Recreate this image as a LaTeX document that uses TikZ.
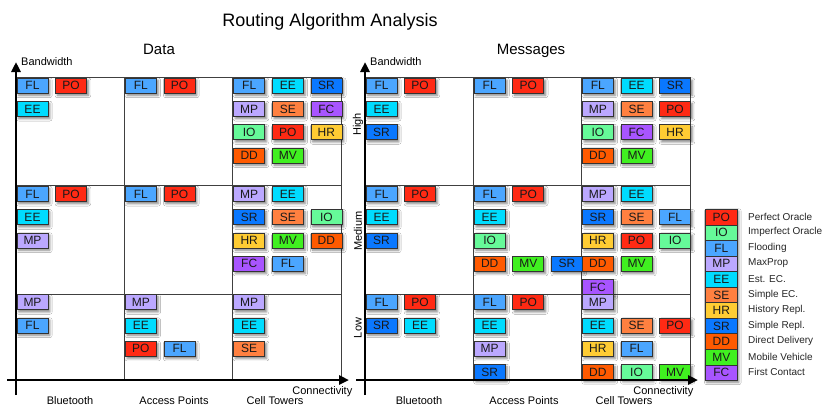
\documentclass[tikz,border=0pt]{standalone}
\usepackage{fontspec}
\setmainfont{Liberation Sans}
\usetikzlibrary{shadows.blur,arrows.meta}
\definecolor{cPO}{HTML}{FF2A14}
\definecolor{cIO}{HTML}{66FA99}
\definecolor{cFL}{HTML}{4BA6FF}
\definecolor{cMP}{HTML}{BBA8FF}
\definecolor{cEE}{HTML}{00DCFF}
\definecolor{cSE}{HTML}{FF8040}
\definecolor{cHR}{HTML}{FFCC33}
\definecolor{cSR}{HTML}{0A78FF}
\definecolor{cDD}{HTML}{FF5A00}
\definecolor{cMV}{HTML}{40F020}
\definecolor{cFC}{HTML}{A855FF}
\tikzset{
  algbox/.style={draw=black!80, line width=0.8pt, minimum width=31pt, minimum height=15pt,
    inner sep=0pt, anchor=north west, font=\fontsize{12}{12}\selectfont, text=black!90,
    blur shadow={shadow xshift=1.8pt, shadow yshift=-2.2pt, shadow blur radius=2.4pt, shadow opacity=50}},
  legbox/.style={draw=black!80, line width=0.8pt, minimum width=32pt, minimum height=15.55pt,
    inner sep=0pt, anchor=north west, font=\fontsize{12}{12}\selectfont, text=black!90},
  legtext/.style={anchor=west, font=\fontsize{10}{10}\selectfont, text=black!85, inner sep=0pt},
  frameline/.style={draw=black!75, line width=0.9pt},
  axisline/.style={line width=2.6pt, -{Triangle[length=10pt,width=9pt]}},
  axlabel/.style={font=\fontsize{11}{11}\selectfont, inner sep=0pt},
  collabel/.style={font=\fontsize{11}{11}\selectfont, inner sep=0pt, anchor=base},
  heading/.style={font=\fontsize{15}{15}\selectfont, inner sep=0pt, anchor=base},
}
\newcommand\cellboxes[4]{%
  \foreach \row [count=\r from 0] in {#4} {%
    \foreach \code [count=\k from 0] in \row {%
      \node[algbox, fill=c\code] (#1-\r-\k) at ({#2+38.6*\k},{#3+23.3*\r}) {\code};
    }
  }%
}
\begin{document}
\begin{tikzpicture}[x=1pt,y=-1pt]
\useasboundingbox[fill=white] (0,0) rectangle (826,405);

% titles
\node[font=\fontsize{18}{18}\selectfont, inner sep=0pt, anchor=base] (title) at (330,26.5) {Routing Algorithm Analysis};
\node[heading] (data) at (159,54.3) {Data};
\node[heading] (msgs) at (531,54.3) {Messages};

% left frame
\draw[frameline] (16,77.7) rectangle (341.7,380);
\draw[frameline] (124.3,77.7) -- (124.3,380) (232.5,77.7) -- (232.5,380);
\draw[frameline] (16,185.5) -- (341.7,185.5) (16,294) -- (341.7,294);
% right frame
\draw[frameline] (365,77.7) rectangle (690,379.5);
\draw[frameline] (473.2,77.7) -- (473.2,379.5) (581.3,77.7) -- (581.3,379.5);
\draw[frameline] (365,185.7) -- (690,185.7) (365,294.2) -- (690,294.2);

% left chart boxes
\cellboxes{LH1}{16.6}{77.7}{{FL,PO},{EE}}
\cellboxes{LH2}{125}{77.7}{{FL,PO}}
\cellboxes{LH3}{233.3}{77.7}{{FL,EE,SR},{MP,SE,FC},{IO,PO,HR},{DD,MV}}
\cellboxes{LM1}{16.6}{186}{{FL,PO},{EE},{MP}}
\cellboxes{LM2}{125}{186}{{FL,PO}}
\cellboxes{LM3}{233.3}{186}{{MP,EE},{SR,SE,IO},{HR,MV,DD},{FC,FL}}
\cellboxes{LL1}{16.6}{294.3}{{MP},{FL}}
\cellboxes{LL2}{125}{294.3}{{MP},{EE},{PO,FL}}
\cellboxes{LL3}{233.3}{294.3}{{MP},{EE},{SE}}

% right chart boxes
\cellboxes{RH1}{365.6}{77.7}{{FL,PO},{EE},{SR}}
\cellboxes{RH2}{473.8}{77.7}{{FL,PO}}
\cellboxes{RH3}{582}{77.7}{{FL,EE,SR},{MP,SE,PO},{IO,FC,HR},{DD,MV}}
\cellboxes{RM1}{365.6}{186}{{FL,PO},{EE},{SR}}
\cellboxes{RM2}{473.8}{186}{{FL,PO},{EE},{IO},{DD,MV,SR}}
\cellboxes{RM3}{582}{186}{{MP,EE},{SR,SE,FL},{HR,PO,IO},{DD,MV},{FC}}
\cellboxes{RL1}{365.6}{294.3}{{FL,PO},{SR,EE}}
\cellboxes{RL2}{473.8}{294.3}{{FL,PO},{EE},{MP},{SR}}
\cellboxes{RL3}{582}{294.3}{{MP},{EE,SE,PO},{HR,FL},{DD,IO,MV}}

% axes
\coordinate (lv0) at (16,395); \coordinate (lv1) at (16,62);
\coordinate (lh0) at (7,380); \coordinate (lh1) at (349,380);
\coordinate (rv0) at (365,395); \coordinate (rv1) at (365,62);
\coordinate (rh0) at (356,380); \coordinate (rh1) at (698,380);
\draw[axisline] (lv0) -- (lv1);
\draw[axisline] (lh0) -- (lh1);
\draw[axisline] (rv0) -- (rv1);
\draw[axisline] (rh0) -- (rh1);

% axis labels
\node[axlabel, anchor=base west] (lbw) at (21,65.7) {Bandwidth};
\node[axlabel, anchor=base west] (rbw) at (370,65.7) {Bandwidth};
\node[axlabel, anchor=base east] (lcon) at (352.5,394.6) {Connectivity};
\node[axlabel, anchor=base east] (rcon) at (693.5,394.6) {Connectivity};
\node[collabel] (lbt) at (70,404) {Bluetooth};
\node[collabel] (lap) at (174,404) {Access Points};
\node[collabel] (lct) at (275,404) {Cell Towers};
\node[collabel] (rbt) at (419,404) {Bluetooth};
\node[collabel] (rap) at (524,404) {Access Points};
\node[collabel] (rct) at (624,404) {Cell Towers};
\node[axlabel, rotate=90] (hi) at (358,124.5) {High};
\node[axlabel, rotate=90] (med) at (358,231) {Medium};
\node[axlabel, rotate=90] (low) at (358,328) {Low};

% legend
\fill[black, opacity=0.35, blur shadow={shadow xshift=1.8pt, shadow yshift=-2.2pt, shadow blur radius=2.4pt, shadow opacity=50}] (705,209) rectangle (737,380.1);
\foreach \code/\txt [count=\i from 0] in {PO/Perfect Oracle, IO/Imperfect Oracle, FL/Flooding, MP/MaxProp, EE/Est. EC., SE/Simple EC., HR/History Repl., SR/Simple Repl., DD/Direct Delivery, MV/Mobile Vehicle, FC/First Contact} {
  \node[legbox, fill=c\code] (leg\code) at (705,{209+15.55*\i}) {\code};
  \node[legtext] (legt\code) at (748,{216.8+15.55*\i}) {\txt};
}
\end{tikzpicture}
\end{document}
